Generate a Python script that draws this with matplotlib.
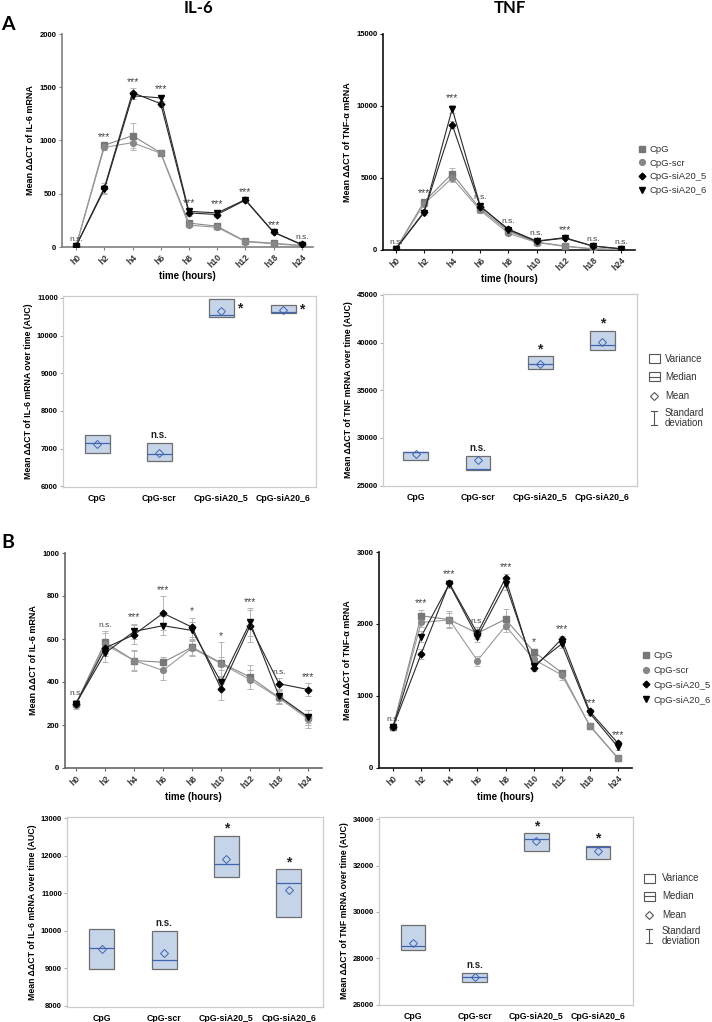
import matplotlib
matplotlib.use('Agg')
import matplotlib.pyplot as plt
import numpy as np
from matplotlib.patches import Rectangle
from matplotlib.lines import Line2D

plt.rcParams['font.family'] = ['Liberation Sans', 'DejaVu Sans']

# ---------------- data ----------------
times = ['h0', 'h2', 'h4', 'h6', 'h8', 'h10', 'h12', 'h18', 'h24']
groups = ['CpG', 'CpG-scr', 'CpG-siA20_5', 'CpG-siA20_6']

# Panel A, IL-6 time course
a_il6_cpg = [10, 955, 1045, 885, 225, 195, 55, 35, 15]
a_il6_scr = [8, 935, 980, 880, 205, 185, 50, 30, 12]
a_il6_si5 = [10, 555, 1450, 1345, 320, 305, 440, 138, 25]
a_il6_si6 = [10, 540, 1420, 1400, 335, 320, 445, 140, 20]
a_il6_cpg_err = [5, 20, 115, 15, 20, 15, 10, 8, 5]
a_il6_scr_err = [5, 20, 70, 15, 15, 12, 8, 6, 4]
a_il6_si5_err = [5, 45, 40, 30, 25, 25, 15, 12, 8]
a_il6_si6_err = [5, 40, 30, 25, 20, 20, 12, 10, 6]
a_il6_sig = ['n.s.', '***', '***', '***', '***', '***', '***', '***', 'n.s.']

# Panel A, TNF time course
a_tnf_cpg = [80, 3350, 5300, 2850, 1300, 550, 280, 80, 40]
a_tnf_scr = [70, 3200, 5000, 2750, 1150, 520, 250, 70, 30]
a_tnf_si5 = [80, 2650, 8700, 3000, 1450, 620, 860, 280, 90]
a_tnf_si6 = [80, 2600, 9800, 3050, 1400, 600, 820, 270, 80]
a_tnf_cpg_err = [20, 150, 400, 150, 100, 60, 40, 20, 10]
a_tnf_scr_err = [20, 150, 300, 150, 100, 60, 40, 20, 10]
a_tnf_si5_err = [20, 150, 250, 150, 100, 80, 60, 40, 20]
a_tnf_si6_err = [20, 150, 300, 150, 100, 80, 60, 40, 20]
a_tnf_sig = ['n.s.', '***', '***', 'n.s.', 'n.s.', 'n.s.', '***', 'n.s.', 'n.s.']

# Panel A, AUC
a_il6_auc_hi = [7361, 7143, 10965, 10800]
a_il6_auc_lo = [6881, 6681, 10485, 10600]
a_il6_auc_mean = [7126, 6880, 10660, 10668]
a_il6_auc_med = [7143, 6855, 10546, 10616]
a_il6_auc_sig = ['', 'n.s.', '*', '*']

a_tnf_auc_hi = [28537, 28118, 38582, 41268]
a_tnf_auc_lo = [27665, 26618, 37222, 39175]
a_tnf_auc_mean = [28258, 27665, 37780, 40047]
a_tnf_auc_med = [28467, 26700, 37780, 39700]
a_tnf_auc_sig = ['', 'n.s.', '*', '*']

# Panel B, IL-6 time course
b_il6_cpg = [300, 585, 500, 492, 562, 489, 423, 328, 235]
b_il6_scr = [295, 575, 500, 454, 558, 485, 411, 325, 228]
b_il6_si5 = [300, 558, 620, 720, 655, 369, 661, 392, 365]
b_il6_si6 = [300, 534, 635, 662, 640, 400, 677, 334, 238]
b_il6_cpg_err = [15, 50, 50, 25, 35, 95, 55, 30, 35]
b_il6_scr_err = [20, 55, 45, 45, 35, 30, 45, 25, 40]
b_il6_si5_err = [10, 30, 45, 80, 45, 55, 75, 25, 30]
b_il6_si6_err = [10, 40, 35, 45, 40, 30, 65, 30, 30]
b_il6_sig = ['n.s.', 'n.s.', '***', '***', '*', '*', '***', 'n.s.', '***']

# Panel B, TNF time course
b_tnf_cpg = [570, 2115, 2060, 1872, 2067, 1617, 1325, 583, 134]
b_tnf_scr = [570, 2021, 2058, 1492, 1974, 1510, 1292, 590, 140]
b_tnf_si5 = [570, 1585, 2568, 1872, 2638, 1385, 1794, 785, 343]
b_tnf_si6 = [570, 1826, 2555, 1817, 2555, 1418, 1724, 760, 292]
b_tnf_cpg_err = [15, 80, 120, 60, 140, 40, 40, 30, 20]
b_tnf_scr_err = [15, 60, 100, 70, 80, 40, 70, 30, 20]
b_tnf_si5_err = [15, 70, 40, 80, 60, 40, 40, 30, 30]
b_tnf_si6_err = [15, 80, 50, 70, 80, 40, 60, 30, 40]
b_tnf_sig = ['n.s.', '***', '***', 'n.s.', '***', '*', '***', '***', '***']

# Panel B, AUC
b_il6_auc_hi = [10043, 10007, 12529, 11641]
b_il6_auc_lo = [8977, 8977, 11419, 10380]
b_il6_auc_mean = [9519, 9403, 11908, 11091]
b_il6_auc_med = [9536, 9226, 11766, 11268]
b_il6_auc_sig = ['', 'n.s.', '*', '*']

b_tnf_auc_hi = [29450, 27386, 33386, 32857]
b_tnf_auc_lo = [28370, 27000, 32643, 32300]
b_tnf_auc_mean = [28640, 27200, 33071, 32643]
b_tnf_auc_med = [28543, 27200, 33157, 32800]
b_tnf_auc_sig = ['', 'n.s.', '*', '*']

# ---------------- figure ----------------
W, H = 712, 1022
fig = plt.figure(figsize=(W / 100, H / 100), dpi=100)


def px_axes(l, t, r, b):
    return fig.add_axes([l / W, 1 - b / H, (r - l) / W, (b - t) / H])


styles = [
    dict(marker='s', mc='#777777', lc='#8a8a8a', ms=4.2),
    dict(marker='o', mc='#878787', lc='#9a9a9a', ms=4.2),
    dict(marker='D', mc='#000000', lc='#2a2a2a', ms=3.4),
    dict(marker='v', mc='#000000', lc='#2a2a2a', ms=4.4),
]


def line_panel(ax, series, errs, sig, ylim, yticks, xlim, spine_color, ylabel):
    x = np.arange(len(times))
    for vals, err, st in zip(series, errs, styles):
        ax.errorbar(x, vals, yerr=err, fmt='none', ecolor='#b5b5b5',
                    elinewidth=0.7, capsize=2, capthick=0.7, zorder=2)
    for vals, st in zip(series, styles):
        ax.plot(x, vals, color=st['lc'], lw=0.8, marker=st['marker'],
                ms=st['ms'], mfc=st['mc'], mec=st['mc'], zorder=3)
    tops = np.max(np.array(series) + np.array(errs), axis=0)
    for xi, top, s in zip(x, tops, sig):
        fs = 7.5 if '*' in s else 6
        ax.annotate(s, (xi, top), xytext=(0, 1.0 if '*' in s else 2),
                    textcoords='offset points', ha='center', va='bottom',
                    fontsize=fs, color='#444444')
    ax.set_xlim(*xlim)
    ax.set_ylim(*ylim)
    ax.set_yticks(yticks)
    ax.set_yticklabels([str(v) for v in yticks], fontsize=5.5, fontweight='bold')
    ax.set_xticks(x)
    ax.set_xticklabels(times, rotation=45, ha='right', rotation_mode='anchor',
                       fontsize=6.2, fontweight='bold', color='#333333')
    for s in ['top', 'right']:
        ax.spines[s].set_visible(False)
    for s in ['left', 'bottom']:
        ax.spines[s].set_color(spine_color)
        ax.spines[s].set_linewidth(1.2)
    ax.tick_params(axis='both', length=2.5, width=0.8, color=spine_color, pad=1.5)
    ax.set_xlabel('time (hours)', fontsize=7, fontweight='bold', labelpad=1)
    ax.set_ylabel(ylabel, fontsize=6.5, fontweight='bold', labelpad=3)


def line_legend(ax, x_left_px, top_px, spacing):
    handles = [Line2D([], [], linestyle='none', marker=st['marker'], ms=st['ms'],
                      mfc=st['mc'], mec=st['mc']) for st in styles]
    ax.legend(handles, groups, loc='upper left',
              bbox_to_anchor=(x_left_px / W, 1 - top_px / H),
              bbox_transform=fig.transFigure, frameon=False, fontsize=6.8,
              handlelength=0.8, handletextpad=0.45, labelspacing=spacing,
              borderpad=0, borderaxespad=0, labelcolor='#333333')


def auc_panel(ax, hi, lo, mean, med, sig, ylim, yticks, xlim, ylabel, star_side=False):
    x = np.arange(len(groups))
    w = 0.4
    hi = np.array(hi, float)
    lo = np.array(lo, float)
    ax.bar(x, hi - lo, bottom=lo, width=w, color='#c6d4e9', edgecolor='#6e6e6e',
           linewidth=0.9, zorder=2)
    ax.hlines(med, x - w / 2, x + w / 2, color='#3f64b0', lw=0.9, zorder=3)
    ax.plot(x, mean, linestyle='none', marker='D', ms=3.6, mfc='none',
            mec='#3f64b0', mew=0.7, zorder=4)
    for xi, h, l, s in zip(x, hi, lo, sig):
        if not s:
            continue
        if s == '*' and star_side:
            ax.text(xi + 0.3, (h + l) / 2, s, ha='center', va='center',
                    fontsize=10, fontweight='bold', color='#222222')
        elif s == '*':
            ax.annotate(s, (xi, h), xytext=(0, 0), textcoords='offset points',
                        ha='center', va='bottom', fontsize=10, fontweight='bold',
                        color='#222222')
        else:
            ax.annotate(s, (xi, h), xytext=(0, 2), textcoords='offset points',
                        ha='center', va='bottom', fontsize=7, fontweight='bold',
                        color='#222222')
    ax.set_xlim(*xlim)
    ax.set_ylim(*ylim)
    ax.set_yticks(yticks)
    ax.set_yticklabels([str(v) for v in yticks], fontsize=5.5, fontweight='bold')
    ax.set_xticks(x)
    ax.set_xticklabels(groups, fontsize=6.3, fontweight='bold')
    for s in ax.spines.values():
        s.set_color('#cccccc')
        s.set_linewidth(0.9)
    ax.tick_params(axis='y', length=2, width=0.7, color='#aaaaaa', pad=1.5)
    ax.tick_params(axis='x', length=0, pad=5)
    ax.set_ylabel(ylabel, fontsize=6.3, fontweight='bold', labelpad=3)


def box_legend(l, t, rows, text_x, sq_x):
    lax = px_axes(l, t, W, t + 90)
    lax.set_xlim(l, W)
    lax.set_ylim(t + 90, t)
    lax.axis('off')
    ec = '#555555'
    y0, y1, y2, y3 = rows
    lax.add_patch(Rectangle((sq_x - 5.5, y0 - 4.5), 11, 9, fill=False, ec=ec, lw=0.8))
    lax.add_patch(Rectangle((sq_x - 5.5, y1 - 4.5), 11, 9, fill=False, ec=ec, lw=0.8))
    lax.plot([sq_x - 5.5, sq_x + 5.5], [y1, y1], color=ec, lw=0.8)
    lax.plot([sq_x], [y2], linestyle='none', marker='D', ms=4.2, mfc='none', mec=ec, mew=0.8)
    lax.plot([sq_x, sq_x], [y3 - 7, y3 + 7], color=ec, lw=0.8)
    lax.plot([sq_x - 3, sq_x + 3], [y3 - 7, y3 - 7], color=ec, lw=0.8)
    lax.plot([sq_x - 3, sq_x + 3], [y3 + 7, y3 + 7], color=ec, lw=0.8)
    for yy, txt in zip([y0, y1, y2], ['Variance', 'Median', 'Mean']):
        lax.text(text_x, yy, txt, ha='left', va='center', fontsize=7, color='#333333')
    lax.text(text_x, y3, 'Standard\ndeviation', ha='left', va='center', fontsize=7,
             color='#333333', linespacing=1.0)


# ---- Panel A ----
ax1 = px_axes(62, 34, 313, 247)
line_panel(ax1, [a_il6_cpg, a_il6_scr, a_il6_si5, a_il6_si6],
           [a_il6_cpg_err, a_il6_scr_err, a_il6_si5_err, a_il6_si6_err],
           a_il6_sig, (0, 2000), [0, 500, 1000, 1500, 2000], (-0.5, 8.4),
           '#808080', 'Mean \u0394\u0394CT of IL-6 mRNA')

ax2 = px_axes(383, 34, 635, 250)
line_panel(ax2, [a_tnf_cpg, a_tnf_scr, a_tnf_si5, a_tnf_si6],
           [a_tnf_cpg_err, a_tnf_scr_err, a_tnf_si5_err, a_tnf_si6_err],
           a_tnf_sig, (0, 15000), [0, 5000, 10000, 15000], (-0.46, 8.5),
           '#111111', 'Mean \u0394\u0394CT of TNF-\u03b1 mRNA')
line_legend(ax2, 638, 145, 0.5)

ax3 = px_axes(63, 296, 316, 487)
auc_panel(ax3, a_il6_auc_hi, a_il6_auc_lo, a_il6_auc_mean, a_il6_auc_med, a_il6_auc_sig,
          (5980, 11050), [6000, 7000, 8000, 9000, 10000, 11000], (-0.55, 3.53),
          'Mean \u0394\u0394CT of IL-6 mRNA over time (AUC)', star_side=True)

ax4 = px_axes(383, 294, 637, 486)
auc_panel(ax4, a_tnf_auc_hi, a_tnf_auc_lo, a_tnf_auc_mean, a_tnf_auc_med, a_tnf_auc_sig,
          (24950, 45100), [25000, 30000, 35000, 40000, 45000], (-0.53, 3.56),
          'Mean \u0394\u0394CT of TNF mRNA over time (AUC)')
box_legend(640, 345, (359, 377, 396, 418), 665, 654)

# ---- Panel B ----
ax5 = px_axes(65, 553, 322, 768)
line_panel(ax5, [b_il6_cpg, b_il6_scr, b_il6_si5, b_il6_si6],
           [b_il6_cpg_err, b_il6_scr_err, b_il6_si5_err, b_il6_si6_err],
           b_il6_sig, (0, 1000), [0, 200, 400, 600, 800, 1000], (-0.38, 8.48),
           '#666666', 'Mean \u0394\u0394CT of IL-6 mRNA')

ax6 = px_axes(379, 552, 632, 768)
line_panel(ax6, [b_tnf_cpg, b_tnf_scr, b_tnf_si5, b_tnf_si6],
           [b_tnf_cpg_err, b_tnf_scr_err, b_tnf_si5_err, b_tnf_si6_err],
           b_tnf_sig, (0, 3000), [0, 1000, 2000, 3000], (-0.5, 8.5),
           '#111111', 'Mean \u0394\u0394CT of TNF-\u03b1 mRNA')
line_legend(ax6, 642, 651, 0.62)

ax7 = px_axes(67, 817, 323, 1007)
auc_panel(ax7, b_il6_auc_hi, b_il6_auc_lo, b_il6_auc_mean, b_il6_auc_med, b_il6_auc_sig,
          (7970, 13030), [8000, 9000, 10000, 11000, 12000, 13000], (-0.56, 3.55),
          'Mean \u0394\u0394CT of IL-6 mRNA over time (AUC)')

ax8 = px_axes(379, 817, 633, 1005)
auc_panel(ax8, b_tnf_auc_hi, b_tnf_auc_lo, b_tnf_auc_mean, b_tnf_auc_med, b_tnf_auc_sig,
          (25990, 34090), [26000, 28000, 30000, 32000, 34000], (-0.55, 3.57),
          'Mean \u0394\u0394CT of TNF mRNA over time (AUC)')
box_legend(636, 864, (878, 896, 915, 936), 662, 649)

# ---- titles and panel letters ----
title_font = ['Lato', 'Liberation Sans', 'DejaVu Sans']
fig.text(198 / W, 1 - 8 / H, 'IL-6', ha='center', va='center', fontsize=12,
         fontweight='bold', family=title_font)
fig.text(510 / W, 1 - 8 / H, 'TNF', ha='center', va='center', fontsize=12,
         fontweight='bold', family=title_font)
fig.text(8 / W, 1 - 25 / H, 'A', ha='center', va='center', fontsize=14,
         fontweight='bold', family=title_font)
fig.text(8 / W, 1 - 542 / H, 'B', ha='center', va='center', fontsize=14,
         fontweight='bold', family=title_font)

fig.savefig('out.png', dpi=100)
